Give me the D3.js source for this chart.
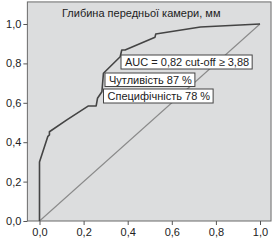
<!DOCTYPE html>
<html>

<head>
    <meta charset="utf-8">
    <title>ROC</title>
    <style>
        body { margin: 0; background: #fff; }
        text { font-family: "Liberation Sans", Arial, sans-serif; fill: #222; }
    </style>
</head>

<body>
    <svg class="roc"></svg>
    <script src="https://cdn.jsdelivr.net/npm/d3@7"></script>
    <script>
        // ROC points (1 - specificity, sensitivity)
        const fpr = [0, 0, 0.038, 0.045, 0.045, 0.124, 0.222, 0.257, 0.263, 0.283, 0.29, 0.366, 0.373, 0.388, 0.524, 0.527, 0.73, 1.0]
        const tpr = [0, 0.30, 0.43, 0.437, 0.453, 0.513, 0.584, 0.584, 0.623, 0.656, 0.75, 0.834, 0.868, 0.868, 0.933, 0.949, 0.985, 1.0]
        const ticks = [0, 0.2, 0.4, 0.6, 0.8, 1.0]
        const title = "Глибина передньої камери, мм"
        const notes = ["AUC = 0,82 cut-off ≥ 3,88", "Чутливість 87 %", "Специфічність 78 %"]

        var width = 280, height = 240

        var svg = d3.select(".roc")
            .attr("width", width)
            .attr("height", height)

        var xScale = d3.scaleLinear().domain([0, 1]).range([39.5, 260])
        var yScale = d3.scaleLinear().domain([0, 1]).range([221, 24])

        const plotLeft = xScale(-0.055), plotRight = xScale(1.05)
        const plotTop = yScale(1.112), plotBottom = yScale(0)

        // grey plot area
        svg.append("rect")
            .attr("x", plotLeft)
            .attr("y", plotTop)
            .attr("width", plotRight - plotLeft)
            .attr("height", plotBottom - plotTop)
            .attr("fill", "#dcddde")
            .attr("stroke", "#6a6a6a")
            .attr("stroke-width", 1)

        const fmt = d => d3.format(".1f")(d).replace(".", ",")

        svg.append("g")
            .attr("transform", `translate(${plotLeft}, 0)`)
            .call(d3.axisLeft(yScale).tickValues(ticks).tickFormat(fmt).tickSize(4).tickSizeOuter(0).tickPadding(2))
        svg.append("g")
            .attr("transform", `translate(0, ${plotBottom})`)
            .call(d3.axisBottom(xScale).tickValues(ticks).tickFormat(fmt).tickSize(4).tickSizeOuter(0).tickPadding(3))

        svg.selectAll(".domain").remove()
        svg.selectAll(".tick line").attr("stroke", "#555")
        svg.selectAll(".tick text")
            .style("font-family", '"Liberation Sans", Arial, sans-serif')
            .style("font-size", "11px")
            .attr("fill", "#222")

        // reference diagonal
        svg.append("line")
            .attr("x1", xScale(0))
            .attr("y1", yScale(0))
            .attr("x2", xScale(1))
            .attr("y2", yScale(1))
            .attr("stroke", "#8a8a8a")
            .attr("stroke-width", 1.1)

        var line = d3.line()
            .x(function (d) { return xScale(d[0]) })
            .y(function (d) { return yScale(d[1]) })

        svg.append("path")
            .datum(fpr.map((f, i) => [f, tpr[i]]))
            .attr("d", line)
            .attr("fill", "none")
            .attr("stroke", "#444")
            .attr("stroke-width", 1.6)
            .attr("stroke-linejoin", "round")

        svg.append("text")
            .attr("x", 62)
            .attr("y", 17)
            .style("font-size", "11px")
            .text(title)

        // note boxes: [x, y top, height]
        const boxes = [[121, 55, 14], [105, 73, 13.5], [103.5, 89, 14]]
        notes.forEach(function (t, i) {
            var g = svg.append("g")
            var txt = g.append("text")
                .attr("x", boxes[i][0] + 4)
                .attr("y", boxes[i][1] + boxes[i][2] / 2 + 4)
                .style("font-size", "11px")
                .text(t)
            var w = txt.node().getComputedTextLength()
            g.insert("rect", "text")
                .attr("x", boxes[i][0])
                .attr("y", boxes[i][1])
                .attr("width", w + 7)
                .attr("height", boxes[i][2])
                .attr("fill", "#fff")
                .attr("stroke", "#444")
                .attr("stroke-width", 1)
        })
    </script>
</body>

</html>
